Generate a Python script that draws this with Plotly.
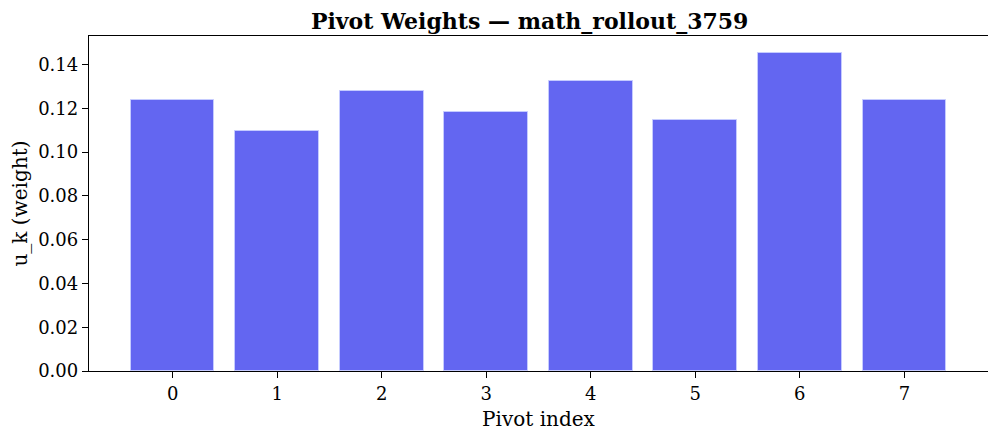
import plotly.graph_objects as go

pivot_index = [0, 1, 2, 3, 4, 5, 6, 7]
weights = [0.1236, 0.1096, 0.1280, 0.1184, 0.1324, 0.1146, 0.1451, 0.1237]

BAR_COLOR = "#6366F1"
FONT = "DejaVu Serif, serif"

fig = go.Figure()

fig.add_trace(
    go.Bar(
        x=pivot_index,
        y=weights,
        width=0.8,
        marker={
            "color": BAR_COLOR,
            "line": {"color": "rgba(200, 205, 255, 0.9)", "width": 1},
        },
        showlegend=False,
    )
)

# the page body adds 8px around the figure
fig.update_layout(
    width=988,
    height=430,
    template="none",
    margin={"l": 81, "r": 8, "t": 28, "b": 67},
    paper_bgcolor="white",
    plot_bgcolor="white",
    font={"family": FONT, "color": "black", "size": 18},
    title={
        "text": "<b>Pivot Weights — math_rollout_3759</b>",
        "x": 0.528,
        "xanchor": "center",
        "y": 0.968,
        "yanchor": "middle",
        "font": {"size": 22},
    },
    bargap=0,
)

fig.update_xaxes(
    range=[-0.8, 7.8],
    tickmode="array",
    tickvals=pivot_index,
    ticktext=[str(i) for i in pivot_index],
    ticks="outside",
    ticklen=6,
    tickwidth=1.2,
    tickcolor="black",
    showgrid=False,
    zeroline=False,
    showline=True,
    mirror=True,
    linecolor="black",
    linewidth=1.3,
    title={"text": "Pivot index", "font": {"size": 20}, "standoff": 9},
)

fig.update_yaxes(
    range=[0, 0.153],
    dtick=0.02,
    tick0=0,
    tickformat=".2f",
    ticks="outside",
    ticklen=6,
    tickwidth=1.2,
    tickcolor="black",
    showgrid=False,
    zeroline=False,
    showline=True,
    mirror=True,
    linecolor="black",
    linewidth=1.3,
    title={"text": "u_k (weight)", "font": {"size": 20}, "standoff": 13},
)

fig.write_html("out.html")
